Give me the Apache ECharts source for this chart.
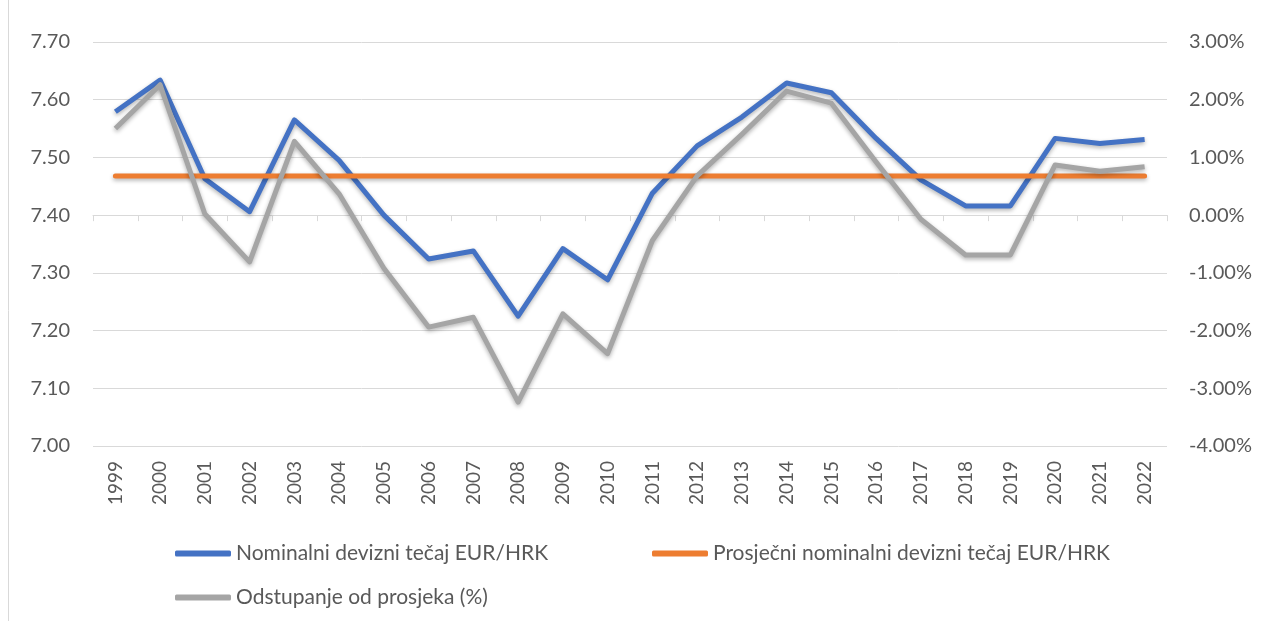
<!DOCTYPE html>
<html>
<head>
<meta charset="utf-8">
<script src="https://cdn.jsdelivr.net/npm/echarts@6/dist/echarts.min.js"></script>
<style>
  html, body { margin: 0; padding: 0; background: #fff; }
  #chart { width: 1266px; height: 621px; }
</style>
</head>
<body>
<div id="chart"></div>
<script>
// godine
const years = ['1999', '2000', '2001', '2002', '2003', '2004', '2005', '2006', '2007', '2008', '2009', '2010',
  '2011', '2012', '2013', '2014', '2015', '2016', '2017', '2018', '2019', '2020', '2021', '2022'];

// nominalni tečaj EUR/HRK
const nominal = [7.579, 7.634, 7.463, 7.406, 7.565, 7.495, 7.400, 7.324, 7.338, 7.225, 7.342, 7.288,
  7.438, 7.520, 7.570, 7.629, 7.612, 7.533, 7.461, 7.416, 7.416, 7.533, 7.524, 7.531];

// prosjek razdoblja
const average = years.map(() => 7.468);

// odstupanje od prosjeka, u %
const deviation = [1.50, 2.26, 0.02, -0.81, 1.28, 0.37, -0.92, -1.94, -1.77, -3.24, -1.71, -2.40,
  -0.44, 0.68, 1.40, 2.15, 1.94, 0.92, -0.07, -0.69, -0.69, 0.87, 0.76, 0.84];

const leftTicks = { min: 7.0, max: 7.7, step: 0.1 };
const rightTicks = { min: -4, max: 3, step: 1 };

const FONT = 'Lato';
const TXT = '#595959';
const GRID = '#d9d9d9';

const chart = echarts.init(document.getElementById('chart'));

const shadow = { shadowColor: 'rgba(0,0,0,0.3)', shadowBlur: 4, shadowOffsetY: 2 };

// jedna legenda po stavci, da raspored bude kao u originalu
const legendItem = (name, left, top) => ({
  data: [name], left, top,
  itemWidth: 56, itemHeight: 6,
  icon: 'roundRect',
  textStyle: { color: TXT, fontSize: 21, fontFamily: FONT }
});

chart.setOption({
  animation: false,
  textStyle: { fontFamily: FONT },
  grid: { left: 93, right: 99, top: 42, bottom: 175, containLabel: false },
  legend: [
    legendItem('Nominalni devizni tečaj EUR/HRK', 170, 538),
    legendItem('Prosječni nominalni devizni tečaj EUR/HRK', 647, 538),
    legendItem('Odstupanje od prosjeka (%)', 170, 582)
  ],
  xAxis: {
    type: 'category',
    data: years,
    boundaryGap: true,
    axisLine: { lineStyle: { color: GRID, width: 1 } },
    axisTick: { show: true, length: 6, lineStyle: { color: GRID } },
    axisLabel: { rotate: 90, color: TXT, fontSize: 19, margin: 15, fontFamily: FONT }
  },
  yAxis: [
    {
      type: 'value',
      min: leftTicks.min, max: leftTicks.max, interval: leftTicks.step,
      axisLine: { show: false }, axisTick: { show: false },
      splitLine: { lineStyle: { color: GRID, width: 1 } },
      axisLabel: { color: TXT, fontSize: 20, margin: 23, formatter: v => v.toFixed(2), fontFamily: FONT }
    },
    {
      type: 'value',
      min: rightTicks.min, max: rightTicks.max, interval: rightTicks.step,
      axisLine: { show: false }, axisTick: { show: false },
      splitLine: { show: false },
      axisLabel: { color: TXT, fontSize: 20, margin: 22, formatter: v => v.toFixed(2) + '%', fontFamily: FONT }
    }
  ],
  series: [
    {
      name: 'Nominalni devizni tečaj EUR/HRK',
      type: 'line', yAxisIndex: 0, data: nominal,
      symbol: 'none', color: '#4472C4',
      lineStyle: Object.assign({ width: 5, color: '#4472C4', join: 'round' }, shadow)
    },
    {
      name: 'Prosječni nominalni devizni tečaj EUR/HRK',
      type: 'line', yAxisIndex: 0, data: average,
      symbol: 'none', color: '#ED7D31',
      lineStyle: Object.assign({ width: 5, color: '#ED7D31', cap: 'round' }, shadow)
    },
    {
      name: 'Odstupanje od prosjeka (%)',
      type: 'line', yAxisIndex: 1, data: deviation,
      symbol: 'none', color: '#A5A5A5',
      lineStyle: Object.assign({ width: 5, color: '#A5A5A5', join: 'round' }, shadow)
    }
  ],
  graphic: [
    { type: 'line', shape: { x1: 8.5, y1: 0, x2: 8.5, y2: 621 }, style: { stroke: GRID, lineWidth: 1 } }
  ]
});
</script>
</body>
</html>
